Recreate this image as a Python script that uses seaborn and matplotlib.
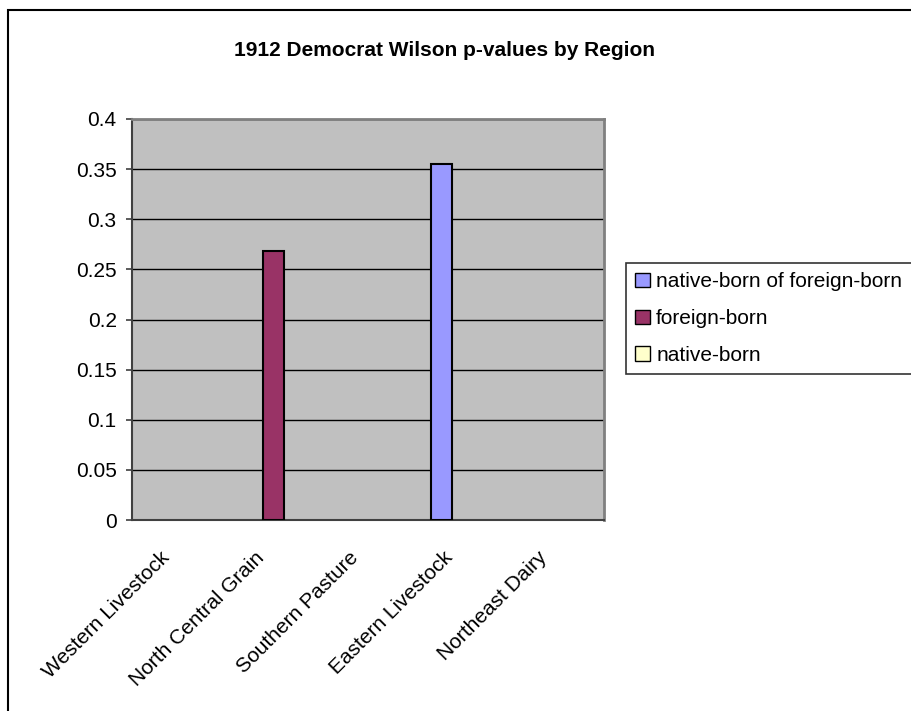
import numpy as np
import pandas as pd
import matplotlib
matplotlib.use("Agg")
import matplotlib.pyplot as plt
import matplotlib.transforms as mtransforms
import seaborn as sns
from matplotlib.patches import Rectangle

# chart data (nan = no bar in the original)
regions = ["Western Livestock", "North Central Grain", "Southern Pasture",
           "Eastern Livestock", "Northeast Dairy"]
groups = ["native-born of foreign-born", "foreign-born", "native-born"]
native_of_foreign = [np.nan, np.nan, np.nan, 0.355, np.nan]
foreign_born = [np.nan, 0.268, np.nan, np.nan, np.nan]
native_born = [np.nan, np.nan, np.nan, np.nan, np.nan]
y_ticks = [0, 0.05, 0.1, 0.15, 0.2, 0.25, 0.3, 0.35, 0.4]
y_tick_labels = ["0", "0.05", "0.1", "0.15", "0.2", "0.25", "0.3", "0.35", "0.4"]

df = pd.DataFrame({
    "region": regions * 3,
    "group": [groups[0]] * 5 + [groups[1]] * 5 + [groups[2]] * 5,
    "p": native_of_foreign + foreign_born + native_born,
})

sns.set_style("white")
plt.rcParams["font.family"] = ["Liberation Sans", "DejaVu Sans"]
plt.rcParams["text.color"] = "black"
plt.rcParams["ytick.labelcolor"] = "black"

fig = plt.figure(figsize=(9.12, 7.11), dpi=100)
ax = fig.add_axes([132 / 912, 1 - 520 / 711, 472 / 912, 401 / 711])

palette = {groups[0]: "#9999FF", groups[1]: "#993366", groups[2]: "#FFFFCC"}
sns.barplot(data=df, x="region", y="p", hue="group", order=regions,
            hue_order=groups, palette=palette, width=0.667, saturation=1,
            edgecolor="black", linewidth=1.5, ax=ax, zorder=3)

ax.set_facecolor("#C0C0C0")
ax.set_xlim(-0.5, 4.5)
ax.set_ylim(0, 0.4)
ax.set_yticks(y_ticks)
ax.set_yticklabels(y_tick_labels, fontsize=15, color="black")
ax.yaxis.grid(True, color="black", linewidth=1)
ax.set_axisbelow(True)
ax.set_xlabel("")
ax.set_ylabel("")

# category labels: rotated, ending just left of each category centre
ax.set_xticks([i - 0.5 for i in range(len(regions) + 1)])
ax.set_xticklabels([])
ax.tick_params(axis="x", length=5, width=1.2, color="#404040", direction="out")
shift = mtransforms.ScaledTranslation(-0.19, -0.28, fig.dpi_scale_trans)
for i, name in enumerate(regions):
    ax.text(i, 0, name, transform=ax.get_xaxis_transform() + shift,
            rotation=45, ha="right", va="top", rotation_mode="anchor",
            fontsize=15, color="black")
ax.tick_params(axis="y", length=4, width=1.2, color="#404040",
               direction="out", left=True, pad=7)

for side in ["top", "right"]:
    ax.spines[side].set_color("#808080")
    ax.spines[side].set_linewidth(2)
for side in ["left", "bottom"]:
    ax.spines[side].set_color("#404040")
    ax.spines[side].set_linewidth(1.5)

fig.text(445 / 912, 1 - 50 / 711, "1912 Democrat Wilson p-values by Region",
         ha="center", va="center", fontsize=15, fontweight="bold",
         color="black")

handles, labels = ax.get_legend_handles_labels()
leg = fig.legend(handles, labels, loc="upper left",
                 bbox_to_anchor=(626 / 912, 1 - 263 / 711), fontsize=15,
                 frameon=True, fancybox=False, edgecolor="black",
                 handlelength=0.7, handleheight=0.7, handletextpad=0.3,
                 labelspacing=0.85, borderpad=0.45, borderaxespad=0,
                 labelcolor="black")
leg.get_frame().set_linewidth(1.2)
for h in leg.legend_handles:
    h.set_edgecolor("black")
    h.set_linewidth(1.0)
ax.get_legend().remove()

# outer chart border (runs past right and bottom edges)
fig.patches.append(Rectangle((8 / 912, -0.05), 1.0, 1 - 10 / 711 + 0.05,
                             transform=fig.transFigure, fill=False,
                             edgecolor="black", linewidth=1.5))

fig.savefig("out.png", dpi=100)
